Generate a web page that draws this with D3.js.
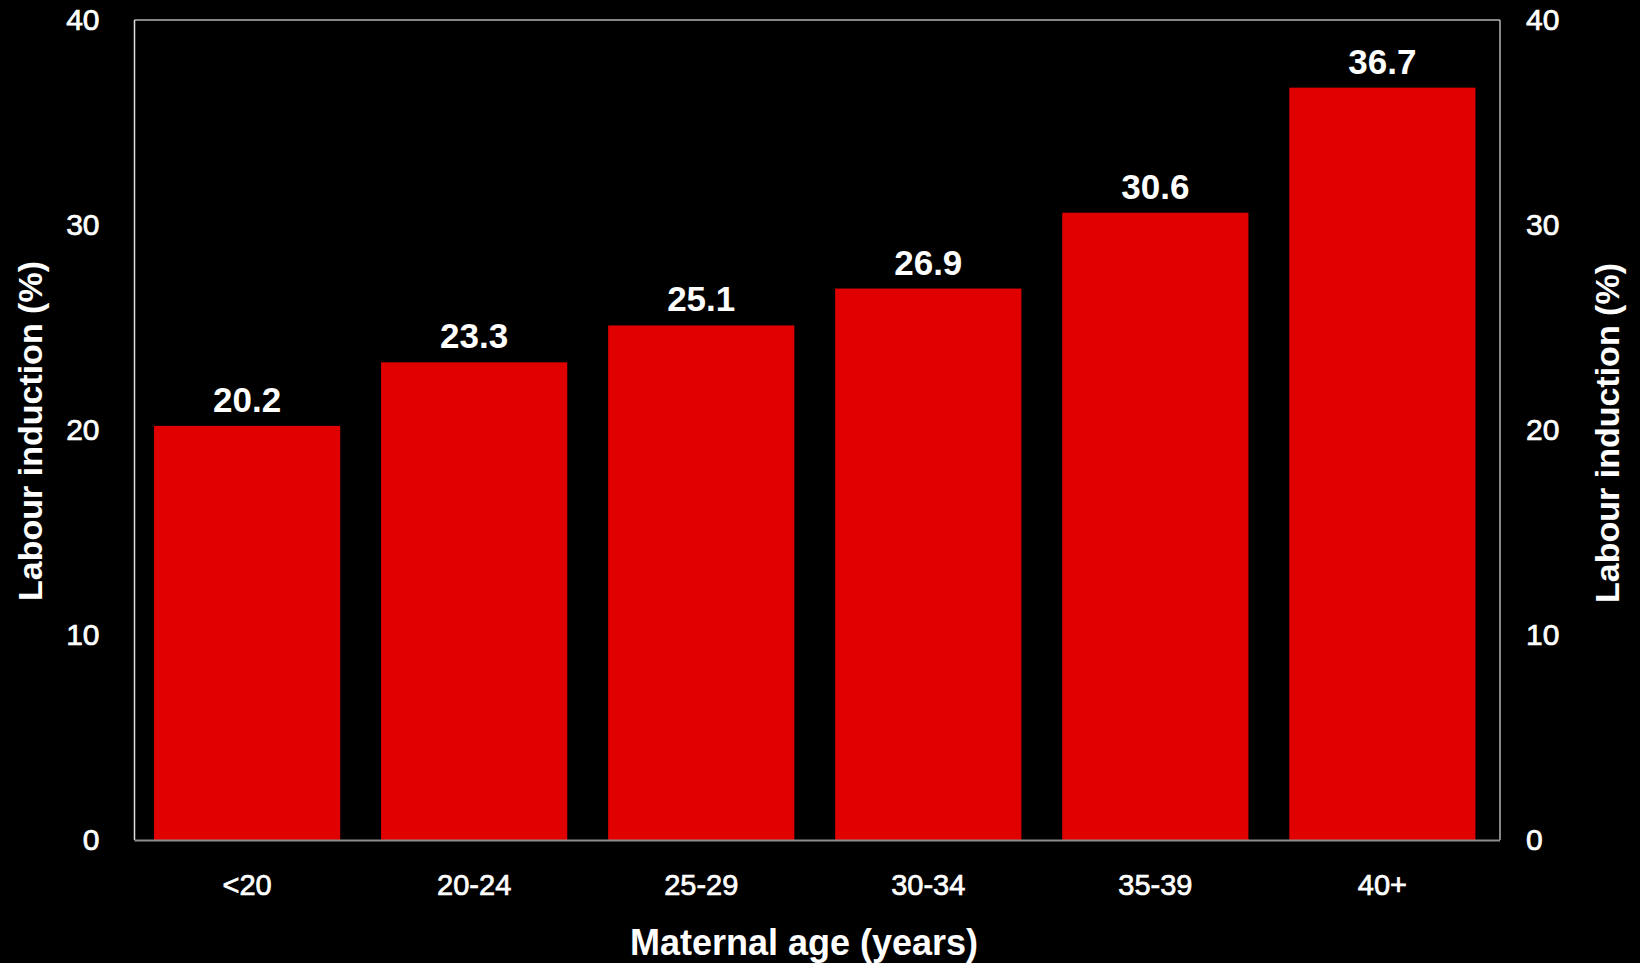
<!DOCTYPE html>
<html>
<head>
<meta charset="utf-8">
<script src="https://cdn.jsdelivr.net/npm/d3@7"></script>
<style>
  html, body { margin: 0; padding: 0; background: #000; }
  svg { display: block; }
  text { font-family: "Liberation Sans", Arial, sans-serif; fill: #fff; }
</style>
</head>
<body>
<svg id="chart" width="1640" height="963"></svg>
<script>
const categories = ["<20", "20-24", "25-29", "30-34", "35-39", "40+"];
const values = [20.2, 23.3, 25.1, 26.9, 30.6, 36.7];
const yTicks = [0, 10, 20, 30, 40];
const xTitle = "Maternal age (years)";
const yTitle = "Labour induction (%)";

const svg = d3.select("#chart");
svg.append("rect").attr("width", 1640).attr("height", 963).attr("fill", "#000");

const plot = { left: 134.5, right: 1500, top: 20, bottom: 840 };

const x = d3.scaleBand()
  .domain(categories)
  .range([plot.left, 1495])
  .paddingInner(0.18)
  .paddingOuter(0.086);

const y = d3.scaleLinear().domain([0, 40]).range([plot.bottom, plot.top]);

// Bars
svg.append("g").selectAll("rect")
  .data(values)
  .join("rect")
  .attr("x", (d, i) => x(categories[i]))
  .attr("width", x.bandwidth())
  .attr("y", d => y(d))
  .attr("height", d => y(0) - y(d))
  .attr("fill", "#e00000");

// Value labels
svg.append("g").selectAll("text")
  .data(values)
  .join("text")
  .attr("x", (d, i) => x(categories[i]) + x.bandwidth() / 2)
  .attr("y", d => y(d) - 14)
  .attr("text-anchor", "middle")
  .attr("font-size", 35)
  .attr("font-weight", "bold")
  .text(d => d.toFixed(1));

// Frame lines
svg.append("line").attr("x1", plot.left).attr("x2", plot.right).attr("y1", plot.top).attr("y2", plot.top)
  .attr("stroke", "#b4b4b4").attr("stroke-width", 1.5);
svg.append("line").attr("x1", plot.right).attr("x2", plot.right).attr("y1", plot.top).attr("y2", plot.bottom)
  .attr("stroke", "#b4b4b4").attr("stroke-width", 1.5);
svg.append("line").attr("x1", plot.left).attr("x2", plot.left).attr("y1", plot.top).attr("y2", plot.bottom)
  .attr("stroke", "#e0e0e0").attr("stroke-width", 1.5);
svg.append("line").attr("x1", plot.left).attr("x2", plot.right).attr("y1", plot.bottom + 0.5).attr("y2", plot.bottom + 0.5)
  .attr("stroke", "#8c8c8c").attr("stroke-width", 2);

function styleTicks(g, size) {
  g.select(".domain").remove();
  g.selectAll("text")
    .attr("font-size", size)
    .attr("fill", "#fff")
    .attr("stroke", "#fff")
    .attr("stroke-width", 0.7)
    .style("font-family", "'Liberation Sans', Arial, sans-serif");
}

// Left axis
const gL = svg.append("g").attr("transform", `translate(${plot.left},0)`)
  .call(d3.axisLeft(y).tickValues(yTicks).tickSize(0).tickPadding(35));
styleTicks(gL, 30);

// Right axis
const gR = svg.append("g").attr("transform", `translate(${plot.right},0)`)
  .call(d3.axisRight(y).tickValues(yTicks).tickSize(0).tickPadding(26));
styleTicks(gR, 30);

// Bottom axis
const gB = svg.append("g").attr("transform", `translate(0,${plot.bottom})`)
  .call(d3.axisBottom(x).tickSize(0).tickPadding(34));
styleTicks(gB, 29);

// Axis titles
svg.append("text")
  .attr("x", 804).attr("y", 955)
  .attr("text-anchor", "middle")
  .attr("font-size", 36).attr("font-weight", "bold")
  .text(xTitle);

svg.append("text")
  .attr("transform", "translate(42,431) rotate(-90)")
  .attr("text-anchor", "middle")
  .attr("font-size", 34).attr("font-weight", "bold")
  .text(yTitle);

svg.append("text")
  .attr("transform", "translate(1619,433) rotate(-90)")
  .attr("text-anchor", "middle")
  .attr("font-size", 34).attr("font-weight", "bold")
  .text(yTitle);
</script>
</body>
</html>
